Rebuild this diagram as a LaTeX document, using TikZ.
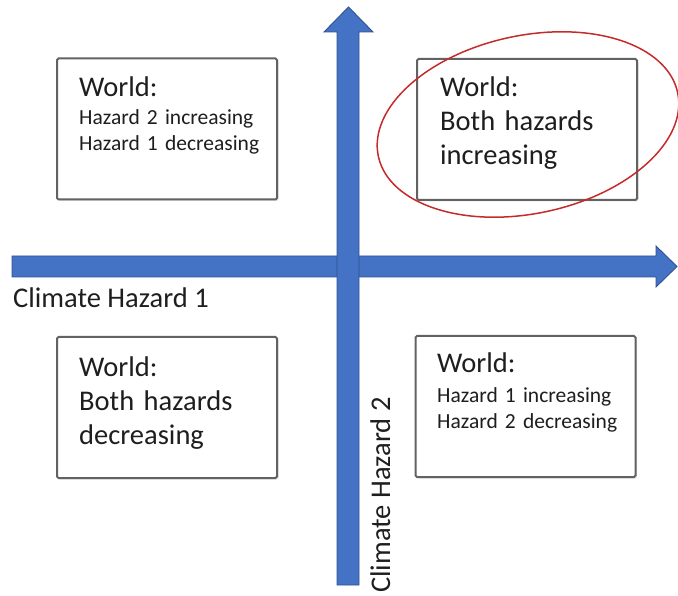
\documentclass[tikz,border=0pt]{standalone}
\usepackage{fontspec}
\setmainfont{Carlito}
\usepackage{tikz}
\usetikzlibrary{shadows}

\definecolor{AxisBlue}{HTML}{4472C4}
\definecolor{AxisEdge}{HTML}{2F528F}
\definecolor{BoxGray}{HTML}{626262}
\definecolor{RingRed}{HTML}{C42B2B}
\definecolor{TextGray}{HTML}{1E1E1E}

\begin{document}
\begin{tikzpicture}[x=1pt,y=-1pt]
  \tikzstyle{AxisStyle}=[fill=AxisBlue,draw=AxisEdge,line width=0.9pt]
  \tikzstyle{BoxStyle}=[draw=BoxGray,fill=white,line width=2pt,rounded corners=1.5pt,
    minimum width=220pt,minimum height=141pt,inner sep=0pt,
    drop shadow={opacity=0.22,shadow xshift=1.5pt,shadow yshift=-1.5pt}]
  \tikzstyle{TitleStyle}=[font=\fontsize{28.5}{34}\selectfont,text=TextGray,inner sep=0pt,anchor=base west]
  \tikzstyle{BigStyle}=[TitleStyle,text width=200pt,align=left]
  \tikzstyle{SmallStyle}=[font=\fontsize{21.5}{26}\selectfont,text=TextGray,inner sep=0pt,
    anchor=base west,text width=200pt,align=left]
  \useasboundingbox (0,0) rectangle (678,596);

  % axes
  \draw[AxisStyle] (12,256) -- (656,256) -- (656,246) -- (677,266.5)
    -- (656,287) -- (656,277) -- (12,277) -- cycle;
  \draw[AxisStyle] (337,585) -- (337,32) -- (324,32) -- (348.5,7)
    -- (373,32) -- (359,32) -- (359,585) -- cycle;
  \node[TitleStyle] (HazardOne) at (13,308) {Climate Hazard 1};
  \node[TitleStyle,rotate=90] (HazardTwo) at (390,593) {Climate Hazard 2};

  % worlds
  \node[BoxStyle] (TL) at (167,129) {};
  \node[BoxStyle] (TR) at (527,129.5) {};
  \node[BoxStyle] (BL) at (167,407.5) {};
  \node[BoxStyle] (BR) at (525.5,406.5) {};

  \node[TitleStyle] (TLTitle) at (79,97) {World:};
  \node[SmallStyle] (TLText) at (79,125) {Hazard 2 increasing\\Hazard 1 decreasing};
  \node[TitleStyle] (TRTitle) at (440,97) {World:};
  \node[BigStyle] (TRText) at (440,131) {Both hazards\\increasing};
  \node[TitleStyle] (BLTitle) at (79,377) {World:};
  \node[BigStyle] (BLText) at (79,410) {Both hazards\\decreasing};
  \node[TitleStyle] (BRTitle) at (437,373) {World:};
  \node[SmallStyle] (BRText) at (437,402) {Hazard 1 increasing\\Hazard 2 decreasing};

  \draw[RingRed,line width=1.5pt] (528,124.5) circle[x radius=153,y radius=89,rotate=12];
\end{tikzpicture}
\end{document}
